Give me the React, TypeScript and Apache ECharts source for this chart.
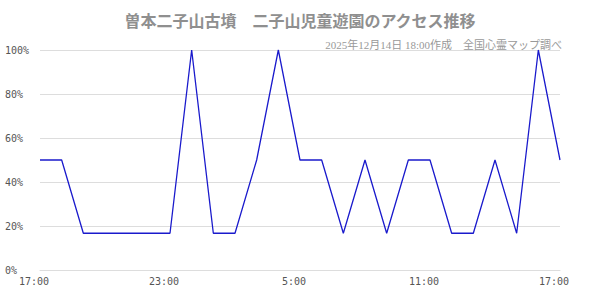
import React, { useEffect, useRef } from "react";
import * as echarts from "echarts";

const hours = [
  "17:00", "18:00", "19:00", "20:00", "21:00", "22:00", "23:00", "0:00", "1:00",
  "2:00", "3:00", "4:00", "5:00", "6:00", "7:00", "8:00", "9:00", "10:00",
  "11:00", "12:00", "13:00", "14:00", "15:00", "16:00", "17:00",
];
const categories = hours.map((h, i) => (i < 7 ? "12/13 " : "12/14 ") + h);
const access = [
  50, 50, 16.7, 16.7, 16.7, 16.7, 16.7, 100, 16.7, 16.7, 50, 100, 50,
  50, 16.7, 50, 16.7, 50, 50, 16.7, 16.7, 50, 16.7, 100, 50,
];
const yTicks = [0, 20, 40, 60, 80, 100];
const titleText = "曽本二子山古墳　二子山児童遊園のアクセス推移";
const subText = "2025年12月14日 18:00作成　全国心霊マップ調べ";

export default function App() {
  const ref = useRef<HTMLDivElement>(null);
  useEffect(() => {
    document.body.style.margin = "0";
    const chart = echarts.init(ref.current!, null, { renderer: "svg" });
    chart.setOption({
      animation: false,
      backgroundColor: "#fff",
      title: [
        {
          text: titleText,
          left: "center",
          top: 7,
          textStyle: {
            fontFamily: "Noto Sans CJK JP",
            fontSize: 16,
            fontWeight: "bold",
            color: "#8f8f8f",
          },
        },
        {
          text: subText,
          right: 33,
          top: 34,
          textStyle: {
            fontFamily: "'Liberation Serif', 'Noto Sans CJK JP'",
            fontSize: 11,
            fontWeight: "normal",
            color: "#999",
          },
        },
      ],
      grid: { left: 40, right: 40, top: 50, bottom: 30, containLabel: false },
      xAxis: {
        type: "category",
        data: categories,
        boundaryGap: false,
        axisLine: { show: true, lineStyle: { color: "#ddd" } },
        axisTick: { show: false },
        splitLine: { show: false },
        axisLabel: {
          interval: 5,
          margin: 6,
          padding: [0, 12, 0, 0],
          fontFamily: "DejaVu Sans Mono",
          fontSize: 10,
          color: "#555",
          formatter: (_v: string, i: number) => hours[i],
        },
      },
      yAxis: {
        type: "value",
        min: yTicks[0],
        max: yTicks[yTicks.length - 1],
        interval: 20,
        axisLine: { show: false },
        axisTick: { show: false },
        splitLine: { lineStyle: { color: "#ddd" } },
        axisLabel: {
          align: "left",
          margin: 35,
          fontFamily: "DejaVu Sans Mono",
          fontSize: 10,
          color: "#555",
          formatter: "{value}%",
        },
      },
      series: [
        {
          type: "line",
          data: access,
          showSymbol: false,
          symbol: "none",
          lineStyle: { color: "#1a1acc", width: 1.3 },
        },
      ],
    });
    return () => chart.dispose();
  }, []);
  return <div ref={ref} style={{ width: 600, height: 300 }} />;
}
